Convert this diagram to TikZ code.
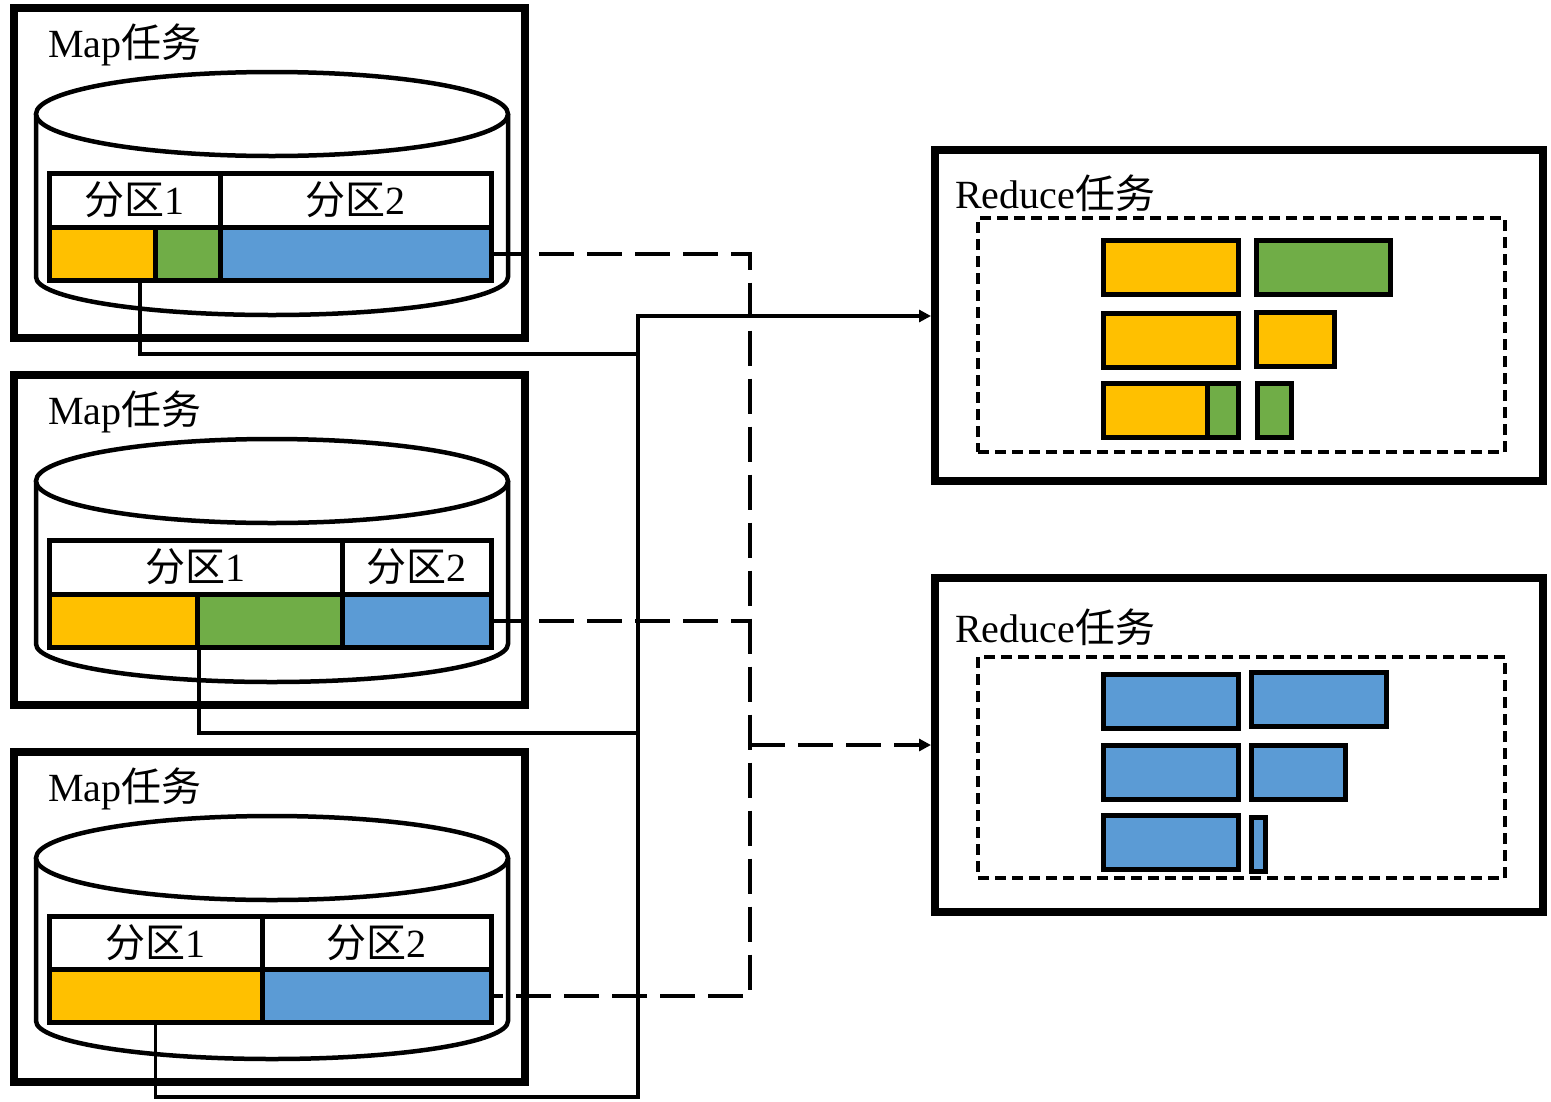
\documentclass[tikz,border=0pt]{standalone}
\usepackage{fontspec}
\setmainfont{Liberation Serif}
\newfontfamily\cjk{Noto Sans CJK SC}
\usetikzlibrary{arrows.meta}
\definecolor{cyel}{HTML}{FFC000}
\definecolor{cgrn}{HTML}{70AD47}
\definecolor{cblu}{HTML}{5B9BD5}

\begin{document}
\begin{tikzpicture}[x=1pt, y=-1pt,
	every node/.style={font=\fontsize{40}{46}\selectfont},
	taskbox/.style={draw, line width=8pt, inner sep=0pt},
	pool/.style={draw, line width=4pt, dash pattern=on 11pt off 6pt, inner sep=0pt},
	disk/.style={draw, line width=4.5pt, fill=white},
	part/.style={draw, line width=5pt, inner sep=0pt, outer sep=0pt, anchor=north west, minimum height=54pt},
	cell/.style={draw, line width=5pt, inner sep=0pt, outer sep=0pt, anchor=north west, minimum height=53pt},
	chunk/.style={draw, line width=5pt, inner sep=0pt, outer sep=0pt, anchor=north west, minimum height=54pt},
	link/.style={line width=3.5pt},
	flow/.style={line width=4pt, dash pattern=on 35pt off 13pt},
	>={Triangle[length=12pt, width=12pt]}]
	\useasboundingbox (0,0) rectangle (1551,1101);

	% three map tasks with their disks
	\foreach \i/\dy in {1/0, 2/367, 3/744} {
		\begin{scope}[yshift=-\dy pt]
			\node[taskbox, minimum width=511pt, minimum height=330pt] (map\i) at (269.5,173) {};
			\node[anchor=base west, inner sep=0pt] (map\i t) at (48,57) {Map{\cjk 任务}};
			\draw[disk] (36,114) -- (36,277) arc[start angle=180, end angle=360, x radius=236pt, y radius=38pt] -- (508,114);
			\draw[disk] (272,114) ellipse[x radius=236pt, y radius=42pt];
		\end{scope}
	}

	% partitions of map 1
	\node[part, minimum width=171pt] (h1a) at (49,173) {{\cjk 分区}1};
	\node[part, minimum width=271pt] (h1b) at (220,173) {{\cjk 分区}2};
	\node[cell, fill=cyel, minimum width=106pt] (m1y) at (49,227) {};
	\node[cell, fill=cgrn, minimum width=65pt] (m1g) at (155,227) {};
	\node[cell, fill=cblu, minimum width=271pt] (m1b) at (220,227) {};

	% partitions of map 2
	\node[part, minimum width=293pt] (h2a) at (49,540) {{\cjk 分区}1};
	\node[part, minimum width=149pt] (h2b) at (342,540) {{\cjk 分区}2};
	\node[cell, fill=cyel, minimum width=148pt] (m2y) at (49,594) {};
	\node[cell, fill=cgrn, minimum width=145pt] (m2g) at (197,594) {};
	\node[cell, fill=cblu, minimum width=149pt] (m2b) at (342,594) {};

	% partitions of map 3
	\node[part, minimum width=213pt] (h3a) at (49,916) {{\cjk 分区}1};
	\node[part, minimum width=229pt] (h3b) at (262,916) {{\cjk 分区}2};
	\node[cell, fill=cyel, minimum width=213pt] (m3y) at (49,969) {};
	\node[cell, fill=cblu, minimum width=229pt] (m3b) at (262,969) {};

	% reduce tasks
	\node[taskbox, minimum width=608pt, minimum height=331pt] (red1) at (1239,315.5) {};
	\node[anchor=base west, inner sep=0pt] (red1t) at (955,208) {Reduce{\cjk 任务}};
	\node[pool, minimum width=527pt, minimum height=234pt] (pool1) at (1241.5,335) {};
	\node[taskbox, minimum width=608pt, minimum height=334pt] (red2) at (1239,745) {};
	\node[anchor=base west, inner sep=0pt] (red2t) at (955,642) {Reduce{\cjk 任务}};
	\node[pool, minimum width=527pt, minimum height=221pt] (pool2) at (1241.5,767.5) {};

	% merged data in reduce 1
	\node[chunk, fill=cyel, minimum width=135pt] (r1a) at (1103,240) {};
	\node[chunk, fill=cgrn, minimum width=134pt] (r1b) at (1256,240) {};
	\node[chunk, fill=cyel, minimum width=135pt] (r1c) at (1103,313) {};
	\node[chunk, fill=cyel, minimum width=78pt] (r1d) at (1256,312) {};
	\node[chunk, fill=cyel, minimum width=104pt] (r1e) at (1103,383) {};
	\node[chunk, fill=cgrn, minimum width=31pt] (r1f) at (1207,383) {};
	\node[chunk, fill=cgrn, minimum width=34pt] (r1g) at (1257,383) {};

	% merged data in reduce 2
	\node[chunk, fill=cblu, minimum width=135pt] (r2a) at (1103,674) {};
	\node[chunk, fill=cblu, minimum width=135pt] (r2b) at (1251,672) {};
	\node[chunk, fill=cblu, minimum width=135pt] (r2c) at (1103,745) {};
	\node[chunk, fill=cblu, minimum width=94pt] (r2d) at (1251,745) {};
	\node[chunk, fill=cblu, minimum width=135pt] (r2e) at (1103,815) {};
	\node[chunk, fill=cblu, minimum width=14pt] (r2f) at (1251,817) {};

	% partition 1 goes to reduce 1
	\coordinate (jn) at (638,316);
	\coordinate (t1) at (638,354);
	\coordinate (t2) at (638,733);
	\coordinate (t3) at (638,1097);
	\draw[link] ([xshift=-15pt]m1y.south east) |- (t1);
	\draw[link] ([xshift=2pt]m2y.south east) |- (t2);
	\draw[link, ->] (m3y.south) |- (t3) -- (jn) -- (jn -| red1.west);

	% partition 2 goes to reduce 2
	\coordinate (xd) at (750,0);
	\draw[flow] (m1b.east) -- (m1b.east -| xd) -- (m3b.east -| xd) -- (m3b.east);
	\draw[flow] (m2b.east) -- (m2b.east -| xd);
	\draw[flow, ->] (xd |- red2.west) -- (red2.west);
\end{tikzpicture}
\end{document}
